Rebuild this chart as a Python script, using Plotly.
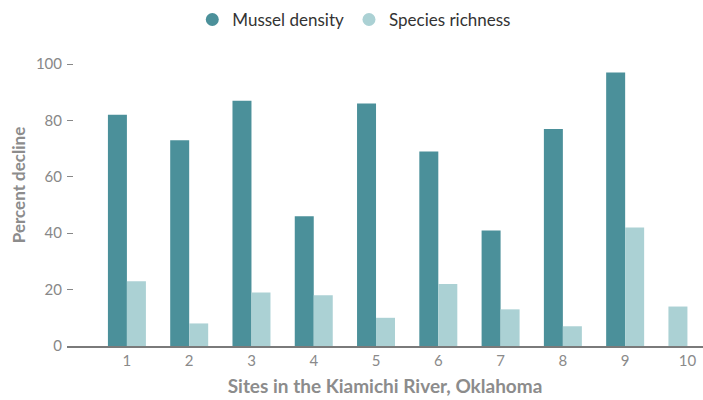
import plotly.graph_objects as go

sites = [1, 2, 3, 4, 5, 6, 7, 8, 9, 10]
tick_labels = ["1", "2", "3", "4", "5", "6", "7", "8", "9", "10"]
mussel_density = [82, 73, 87, 46, 86, 69, 41, 77, 97, None]
species_richness = [23, 8, 19, 18, 10, 22, 13, 7, 42, 14]

C_MUSSEL = "#4b909a"
C_SPECIES = "#abd1d4"
FONT = "Lato, 'Open Sans', sans-serif"

bw = 0.305
mussel_offset = [-bw] * len(sites)
species_offset = [(-bw if m is None else 0) for m in mussel_density]

fig = go.Figure()
fig.add_trace(go.Bar(x=sites, y=mussel_density, width=bw, offset=mussel_offset,
                     marker=dict(color=C_MUSSEL, line=dict(width=0)),
                     name="Mussel density", showlegend=False))
fig.add_trace(go.Bar(x=sites, y=species_richness, width=bw, offset=species_offset,
                     marker=dict(color=C_SPECIES, line=dict(width=0)),
                     name="Species richness", showlegend=False))
# legend entries with circle markers
fig.add_trace(go.Scatter(x=[None], y=[None], mode="markers", name="Mussel density",
                         marker=dict(symbol="circle", size=13, color=C_MUSSEL)))
fig.add_trace(go.Scatter(x=[None], y=[None], mode="markers", name="Species richness",
                         marker=dict(symbol="circle", size=13, color=C_SPECIES)))

fig.update_layout(
    width=703, height=400,
    margin=dict(l=67, r=0, t=24, b=54),
    barmode="overlay",
    plot_bgcolor="white", paper_bgcolor="white",
    font=dict(family=FONT, color="#888888", size=15),
    legend=dict(orientation="h", x=0.197, xanchor="left", y=1.0125, yanchor="middle",
                font=dict(size=17, color="#333333", family=FONT),
                bgcolor="rgba(0,0,0,0)", borderwidth=0),
    xaxis=dict(range=[0.038, 10.25], tickmode="array", tickvals=sites, ticktext=tick_labels,
               showgrid=False, zeroline=False, showline=True, linecolor="#7a7a7a", linewidth=1.5,
               ticks="", tickfont=dict(size=15, color="#8a8a8a"), automargin=False,
               title=dict(text="<b>Sites in the Kiamichi River, Oklahoma</b>",
                          font=dict(size=19, color="#8c8c8c"), standoff=12)),
    yaxis=dict(range=[0, 114.2], tickmode="array", tickvals=[0, 20, 40, 60, 80, 100],
               showgrid=False, zeroline=False, showline=False, automargin=False,
               ticks="inside", ticklen=6, tickwidth=1.2, tickcolor="#888888",
               tickfont=dict(size=15, color="#888888"), ticklabelstandoff=4,
               title=dict(text="<b>Percent decline</b>", font=dict(size=17, color="#8c8c8c"),
                          standoff=5)),
)

fig.write_html("out.html", config={"displayModeBar": False},
               post_script="document.body.style.margin='0';document.body.style.padding='0';")
